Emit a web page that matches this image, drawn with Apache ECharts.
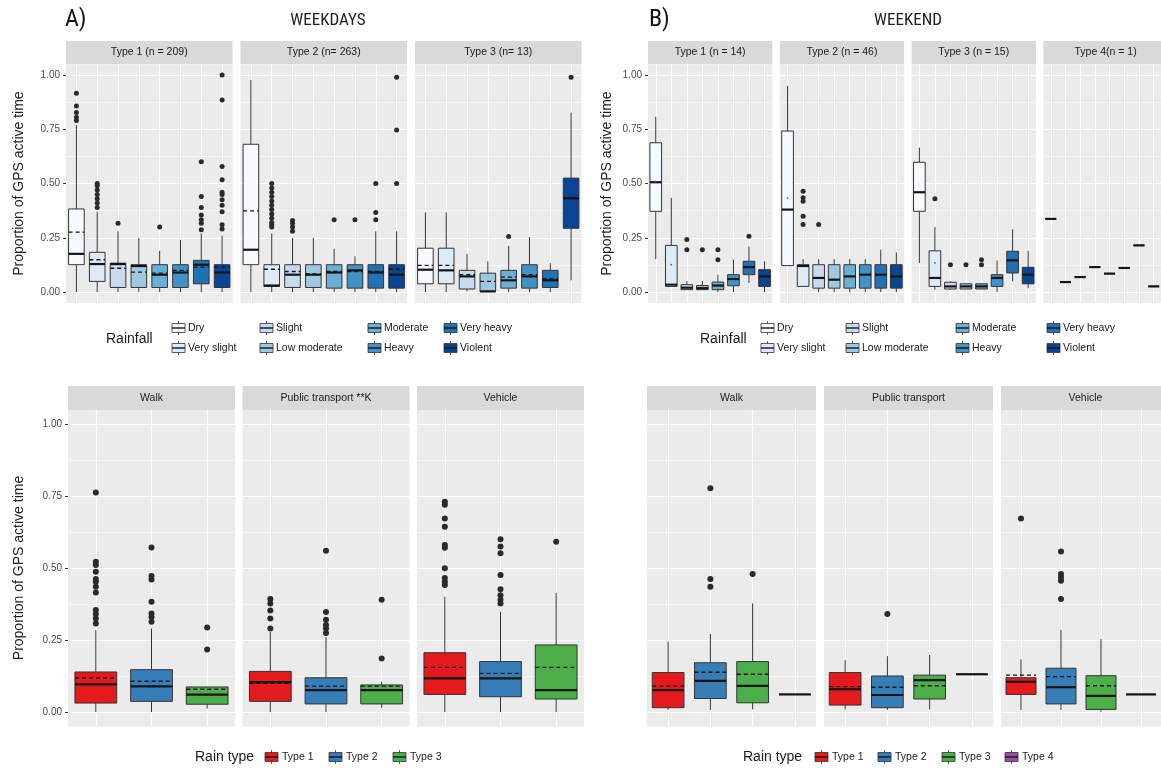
<!DOCTYPE html>
<html>
<head>
<meta charset="utf-8">
<script src="https://cdn.jsdelivr.net/npm/echarts@6/dist/echarts.min.js"></script>
<style>
html,body{margin:0;padding:0;background:#fff;}
#chart{width:1161px;height:774px;}
</style>
</head>
<body>
<div id="chart"></div>
<script>
// ---------------- DATA ----------------
const rainCats = ['Dry','Very slight','Slight','Low moderate','Moderate','Heavy','Very heavy','Violent'];
const typeCats3 = ['Type 1','Type 2','Type 3'];
const typeCats4 = ['Type 1','Type 2','Type 3','Type 4'];
const yTicks = [0, 0.25, 0.5, 0.75, 1];
const yTickLabels = ['0.00','0.25','0.50','0.75','1.00'];
const yMinorTicks = [0.125, 0.375, 0.625, 0.875];

const weekdayPanelTitles = ['Type 1 (n = 209)','Type 2 (n= 263)','Type 3 (n= 13)'];
const weekendPanelTitles = ['Type 1 (n = 14)','Type 2 (n = 46)','Type 3 (n = 15)','Type 4(n = 1)'];
const modeTitlesWeekday = ['Walk','Public transport **K','Vehicle'];
const modeTitlesWeekend = ['Walk','Public transport','Vehicle'];

// box rows: [lower whisker, Q1, median, Q3, upper whisker, mean]
const wdType1Box = [
  [0, 0.126, 0.176, 0.383, 0.77, 0.276],
  [0, 0.049, 0.129, 0.183, 0.37, 0.149],
  [0, 0.021, 0.129, 0.133, 0.28, 0.11],
  [0, 0.021, 0.12, 0.126, 0.25, 0.092],
  [0, 0.021, 0.08, 0.126, 0.19, 0.087],
  [0, 0.021, 0.09, 0.126, 0.24, 0.10],
  [0, 0.038, 0.126, 0.146, 0.27, 0.115],
  [0, 0.021, 0.09, 0.126, 0.26, 0.115]
];
const wdType1Out = [
  [0.79, 0.805, 0.827, 0.857, 0.916],
  [0.39, 0.41, 0.43, 0.45, 0.47, 0.49, 0.50],
  [0.317], [], [0.30], [],
  [0.287, 0.317, 0.333, 0.355, 0.39, 0.44, 0.60],
  [0.29, 0.31, 0.37, 0.40, 0.425, 0.45, 0.46, 0.517, 0.578, 0.885, 1.0]
];
const wdType2Box = [
  [0, 0.126, 0.195, 0.681, 0.977, 0.374],
  [0, 0.026, 0.03, 0.126, 0.27, 0.105],
  [0, 0.021, 0.08, 0.126, 0.25, 0.095],
  [0, 0.021, 0.08, 0.126, 0.25, 0.083],
  [0, 0.018, 0.09, 0.126, 0.2, 0.095],
  [0, 0.018, 0.10, 0.126, 0.165, 0.095],
  [0, 0.018, 0.09, 0.126, 0.28, 0.095],
  [0, 0.018, 0.08, 0.126, 0.28, 0.106]
];
const wdType2Out = [
  [],
  [0.30, 0.31, 0.32, 0.34, 0.36, 0.38, 0.40, 0.42, 0.44, 0.46, 0.48, 0.50],
  [0.28, 0.30, 0.317, 0.33], [], [0.333], [0.333],
  [0.333, 0.367, 0.50],
  [0.50, 0.747, 0.99]
];
const wdType3Box = [
  [0, 0.038, 0.103, 0.202, 0.367, 0.123],
  [0, 0.038, 0.10, 0.202, 0.367, 0.123],
  [0.003, 0.014, 0.072, 0.10, 0.176, 0.08],
  [0, 0.003, 0.003, 0.087, 0.141, 0.049],
  [0, 0.018, 0.054, 0.10, 0.213, 0.069],
  [0, 0.018, 0.072, 0.126, 0.253, 0.08],
  [0, 0.021, 0.054, 0.10, 0.133, 0.06],
  [0.054, 0.294, 0.432, 0.525, 0.827, 0.432]
];
const wdType3Out = [[], [], [], [], [0.256], [], [], [0.99]];

const weType1Box = [
  [0.152, 0.372, 0.506, 0.688, 0.808, 0.51],
  [0.026, 0.026, 0.034, 0.215, 0.434, 0.126],
  [0.011, 0.011, 0.02, 0.034, 0.05, null],
  [0.011, 0.011, 0.018, 0.03, 0.05, null],
  [0, 0.011, 0.03, 0.046, 0.08, null],
  [0, 0.029, 0.06, 0.08, 0.149, null],
  [0.042, 0.08, 0.115, 0.142, 0.21, null],
  [0, 0.026, 0.072, 0.103, 0.142, null]
];
const weType1Out = [[], [], [0.195, 0.242], [0.195], [0.149, 0.195], [], [0.257], []];
const weType2Box = [
  [0.122, 0.122, 0.38, 0.742, 0.95, 0.434],
  [0.026, 0.026, 0.12, 0.126, 0.152, null],
  [0, 0.018, 0.065, 0.126, 0.152, null],
  [0, 0.018, 0.057, 0.126, 0.152, null],
  [0, 0.018, 0.072, 0.126, 0.152, null],
  [0, 0.018, 0.08, 0.126, 0.152, null],
  [0, 0.018, 0.08, 0.126, 0.195, null],
  [0, 0.018, 0.072, 0.126, 0.183, null]
];
const weType2Out = [[], [0.311, 0.349, 0.418, 0.434, 0.465], [0.311], [], [], [], [], []];
const weType3Box = [
  [0.134, 0.372, 0.46, 0.598, 0.665, null],
  [0.011, 0.026, 0.065, 0.19, 0.30, 0.134],
  [0.011, 0.014, 0.026, 0.045, 0.05, null],
  [0.014, 0.014, 0.026, 0.038, 0.04, null],
  [0.014, 0.014, 0.026, 0.038, 0.04, null],
  [0, 0.026, 0.065, 0.08, 0.146, null],
  [0.049, 0.088, 0.146, 0.188, 0.29, null],
  [0.018, 0.038, 0.08, 0.114, 0.19, null]
];
const weType3Out = [[], [0.43], [0.126], [0.126], [0.126, 0.149], [], [], []];
const weType4Value = [0.337, 0.046, 0.069, 0.115, 0.085, 0.111, 0.215, 0.026];

const wdWalkBox = [
  [0, 0.031, 0.096, 0.139, 0.284, 0.118],
  [0, 0.037, 0.089, 0.147, 0.29, 0.107],
  [0.012, 0.027, 0.06, 0.087, 0.087, 0.079]
];
const wdWalkOut = [
  [0.307, 0.325, 0.34, 0.354, 0.415, 0.435, 0.452, 0.462, 0.487, 0.51, 0.522, 0.762],
  [0.313, 0.33, 0.342, 0.383, 0.46, 0.472, 0.571],
  [0.217, 0.293]
];
const wdPublicBox = [
  [0, 0.037, 0.104, 0.141, 0.278, 0.10],
  [0, 0.028, 0.076, 0.119, 0.26, 0.09],
  [0.014, 0.028, 0.076, 0.094, 0.105, 0.09]
];
const wdPublicOut = [
  [0.29, 0.325, 0.352, 0.377, 0.392],
  [0.274, 0.29, 0.302, 0.32, 0.347, 0.56],
  [0.186, 0.39]
];
const wdVehicleBox = [
  [0, 0.061, 0.117, 0.206, 0.40, 0.155],
  [0, 0.053, 0.117, 0.175, 0.348, 0.134],
  [0, 0.045, 0.076, 0.233, 0.414, 0.155]
];
const wdVehicleOut = [
  [0.441, 0.452, 0.465, 0.499, 0.57, 0.58, 0.643, 0.672, 0.72, 0.73],
  [0.377, 0.39, 0.405, 0.426, 0.476, 0.551, 0.575, 0.6],
  [0.591]
];
const weWalkBox = [
  [0.007, 0.015, 0.076, 0.137, 0.244, 0.09],
  [0.007, 0.047, 0.108, 0.171, 0.271, 0.138],
  [0.009, 0.032, 0.091, 0.175, 0.377, 0.131],
  [0.061, 0.061, 0.061, 0.061, 0.061, null]
];
const weWalkOut = [[], [0.435, 0.462, 0.777], [0.479], []];
const wePublicBox = [
  [0.009, 0.024, 0.079, 0.137, 0.18, 0.088],
  [0.007, 0.015, 0.059, 0.125, 0.194, 0.086],
  [0.009, 0.045, 0.111, 0.128, 0.198, 0.091],
  [0.131, 0.131, 0.131, 0.131, 0.131, null]
];
const wePublicOut = [[], [0.34], [], []];
const weVehicleBox = [
  [0.007, 0.061, 0.105, 0.119, 0.183, 0.128],
  [0.007, 0.028, 0.086, 0.152, 0.285, 0.123],
  [0.001, 0.009, 0.056, 0.126, 0.253, 0.091],
  [0.061, 0.061, 0.061, 0.061, 0.061, null]
];
const weVehicleOut = [[0.672], [0.392, 0.456, 0.468, 0.479, 0.557], [], []];

// ---------------- STYLE ----------------
const rainColors = ['#F7FBFF','#DEEBF7','#C6DBEF','#9ECAE1','#6BAED6','#4292C6','#2171B5','#084594'];
const typeColors = ['#E41A1C','#377EB8','#4DAF4A','#984EA3'];
const FONT = "'Liberation Sans', Arial, sans-serif";
const TITLE_FONT = "'Liberation Sans Narrow', 'Roboto Condensed', 'Liberation Sans', sans-serif";

const weType4Box = weType4Value.map(v => [v, v, v, v, v, null]);
const noOut = rainCats.map(() => []);

// layout (not data)
const topRow = {top: 64.2, height: 238.7, stripTop: 41, stripH: 23};
const botRow = {top: 409.6, height: 316.8, stripTop: 386, stripH: 24};

const panels = [
  {title: weekdayPanelTitles[0], cats: rainCats, colors: rainColors, box: wdType1Box, out: wdType1Out, left: 66, width: 166.5, row: topRow, labels: true, name: 40, mean: 'dash'},
  {title: weekdayPanelTitles[1], cats: rainCats, colors: rainColors, box: wdType2Box, out: wdType2Out, left: 240.5, width: 166.5, row: topRow, mean: 'dash'},
  {title: weekdayPanelTitles[2], cats: rainCats, colors: rainColors, box: wdType3Box, out: wdType3Out, left: 415, width: 166.5, row: topRow, mean: 'dash'},
  {title: weekendPanelTitles[0], cats: rainCats, colors: rainColors, box: weType1Box, out: weType1Out, left: 648, width: 124.3, row: topRow, labels: true, name: 34, mean: 'dot'},
  {title: weekendPanelTitles[1], cats: rainCats, colors: rainColors, box: weType2Box, out: weType2Out, left: 779.8, width: 124.3, row: topRow, mean: 'dot'},
  {title: weekendPanelTitles[2], cats: rainCats, colors: rainColors, box: weType3Box, out: weType3Out, left: 911.6, width: 124.3, row: topRow, mean: 'dot'},
  {title: weekendPanelTitles[3], cats: rainCats, colors: rainColors, box: weType4Box, out: noOut, left: 1043.4, width: 124.3, row: topRow, mean: 'dot'},
  {title: modeTitlesWeekday[0], cats: typeCats3, colors: typeColors, box: wdWalkBox, out: wdWalkOut, left: 68, width: 167, row: botRow, labels: true, name: 42, mean: 'dash'},
  {title: modeTitlesWeekday[1], cats: typeCats3, colors: typeColors, box: wdPublicBox, out: wdPublicOut, left: 242.5, width: 167, row: botRow, mean: 'dash'},
  {title: modeTitlesWeekday[2], cats: typeCats3, colors: typeColors, box: wdVehicleBox, out: wdVehicleOut, left: 417, width: 167, row: botRow, mean: 'dash'},
  {title: modeTitlesWeekend[0], cats: typeCats4, colors: typeColors, box: weWalkBox, out: weWalkOut, left: 647, width: 169, row: botRow, mean: 'dash'},
  {title: modeTitlesWeekend[1], cats: typeCats4, colors: typeColors, box: wePublicBox, out: wePublicOut, left: 824, width: 169, row: botRow, mean: 'dash'},
  {title: modeTitlesWeekend[2], cats: typeCats4, colors: typeColors, box: weVehicleBox, out: weVehicleOut, left: 1001, width: 169, row: botRow, mean: 'dash'}
];

const BOXW = 0.75;

function makeBoxRenderer(meanStyle) {
  return function (params, api) {
    const x = api.value(0);
    const lo = api.value(1), q1 = api.value(2), md = api.value(3), q3 = api.value(4), hi = api.value(5), mn = api.value(6);
    const half = api.size([BOXW, 0])[0] / 2;
    const c = v => api.coord([x, v]);
    const pLo = c(lo), pQ1 = c(q1), pMd = c(md), pQ3 = c(q3), pHi = c(hi);
    const cx = pMd[0];
    const children = [
      {type: 'line', shape: {x1: cx, y1: pLo[1], x2: cx, y2: pQ1[1]}, style: {stroke: '#333', lineWidth: 1}},
      {type: 'line', shape: {x1: cx, y1: pQ3[1], x2: cx, y2: pHi[1]}, style: {stroke: '#333', lineWidth: 1}},
      {type: 'rect', shape: {x: cx - half, y: pQ3[1], width: 2 * half, height: pQ1[1] - pQ3[1]},
        style: {fill: api.visual('color'), stroke: '#333', lineWidth: 1}},
      {type: 'line', shape: {x1: cx - half, y1: pMd[1], x2: cx + half, y2: pMd[1]}, style: {stroke: '#151515', lineWidth: 2.2}}
    ];
    if (mn != null && !isNaN(mn)) {
      const pm = c(mn);
      if (meanStyle === 'dash') {
        children.push({type: 'line', shape: {x1: cx - half, y1: pm[1], x2: cx + half, y2: pm[1]},
          style: {stroke: '#151515', lineWidth: 1.4, lineDash: [4, 3]}});
      } else {
        children.push({type: 'circle', shape: {cx: cx, cy: pm[1], r: 0.9}, style: {fill: '#666'}});
      }
    }
    return {type: 'group', children: children};
  };
}

const grids = [], xAxes = [], yAxes = [], series = [], graphics = [];

panels.forEach((p, i) => {
  const n = p.cats.length;
  const idx = p.cats.map((_, k) => k);
  grids.push({left: p.left, top: p.row.top, width: p.width, height: p.row.height,
    show: true, backgroundColor: '#EBEBEB', borderWidth: 0, containLabel: false});
  xAxes.push({gridIndex: i, type: 'value', min: -0.5, max: n - 0.5,
    axisLine: {show: false, onZero: false}, axisLabel: {show: false},
    axisTick: {show: false, customValues: idx},
    splitLine: {show: true, lineStyle: {color: '#FFFFFF', width: 1.1}}});
  yAxes.push({gridIndex: i, type: 'value', min: -0.05, max: 1.05, position: 'left',
    axisLine: {show: false, onZero: false},
    axisTick: {show: !!p.labels, length: 3, customValues: yTicks, lineStyle: {color: '#333', width: 1}},
    axisLabel: {show: !!p.labels, customValues: yTicks, margin: 6, color: '#4D4D4D', fontSize: 10, fontFamily: FONT,
      formatter: v => yTickLabels[yTicks.indexOf(v)]},
    splitLine: {show: true, lineStyle: {color: '#FFFFFF', width: 1.1}},
    name: p.name ? 'Proportion of GPS active time' : '',
    nameLocation: 'middle', nameGap: p.name || 0,
    nameTextStyle: {fontSize: 14, color: '#222', fontFamily: FONT}});
  yAxes.push({gridIndex: i, type: 'value', min: -0.05, max: 1.05, position: 'left',
    axisLine: {show: false, onZero: false}, axisLabel: {show: false},
    axisTick: {show: false, customValues: yMinorTicks},
    splitLine: {show: true, lineStyle: {color: '#FFFFFF', width: 0.55}}});
  series.push({
    type: 'custom', xAxisIndex: i, yAxisIndex: 2 * i, silent: true, animation: false,
    renderItem: makeBoxRenderer(p.mean),
    encode: {x: 0, y: [1, 2, 3, 4, 5]},
    data: p.box.map((b, k) => ({value: [k].concat(b.map(v => v == null ? '-' : v)), itemStyle: {color: p.colors[k]}}))
  });
  const pts = [];
  p.out.forEach((arr, k) => arr.forEach(v => pts.push([k, v])));
  series.push({
    type: 'scatter', xAxisIndex: i, yAxisIndex: 2 * i, silent: true, animation: false,
    symbolSize: p.row === topRow ? 5 : 6, itemStyle: {color: '#2a2a2a', opacity: 1}, data: pts
  });
  graphics.push({type: 'rect', shape: {x: p.left, y: p.row.stripTop, width: p.width, height: p.row.stripH},
    style: {fill: '#D9D9D9'}, silent: true});
  graphics.push({type: 'text', x: p.left + p.width / 2, y: p.row.stripTop + p.row.stripH / 2,
    style: {text: p.title, align: 'center', verticalAlign: 'middle', fontSize: 10.5, fontFamily: FONT, fill: '#1A1A1A'}, silent: true});
});

// titles
graphics.push({type: 'text', x: 65, y: 20, style: {text: 'A)', verticalAlign: 'middle', fontSize: 24, fontFamily: TITLE_FONT, fill: '#111'}});
graphics.push({type: 'text', x: 328, y: 21, style: {text: 'WEEKDAYS', align: 'center', verticalAlign: 'middle', fontSize: 17, fontFamily: TITLE_FONT, fill: '#222'}});
graphics.push({type: 'text', x: 649, y: 20, style: {text: 'B)', verticalAlign: 'middle', fontSize: 24, fontFamily: TITLE_FONT, fill: '#111'}});
graphics.push({type: 'text', x: 908, y: 21, style: {text: 'WEEKEND', align: 'center', verticalAlign: 'middle', fontSize: 17, fontFamily: TITLE_FONT, fill: '#222'}});

// legend keys
function legendKey(x, yc, color, w, h) {
  return [
    {type: 'line', shape: {x1: x + w / 2, y1: yc - h / 2 - 2.5, x2: x + w / 2, y2: yc + h / 2 + 2.5}, style: {stroke: '#333', lineWidth: 0.8}},
    {type: 'rect', shape: {x: x, y: yc - h / 2, width: w, height: h}, style: {fill: color, stroke: '#333', lineWidth: 0.8}},
    {type: 'line', shape: {x1: x, y1: yc, x2: x + w, y2: yc}, style: {stroke: '#151515', lineWidth: 1.4}}
  ];
}
function buildRainLegend(titleX, iconXs, rowYs) {
  graphics.push({type: 'text', x: titleX, y: (rowYs[0] + rowYs[1]) / 2 + 1,
    style: {text: 'Rainfall', verticalAlign: 'middle', fontSize: 14, fontFamily: FONT, fill: '#1A1A1A'}});
  rainCats.forEach((cat, k) => {
    const col = Math.floor(k / 2), row = k % 2;
    const x = iconXs[col], y = rowYs[row];
    legendKey(x, y, rainColors[k], 13, 9).forEach(g => graphics.push(g));
    graphics.push({type: 'text', x: x + 16, y: y,
      style: {text: cat, verticalAlign: 'middle', fontSize: 10.5, fontFamily: FONT, fill: '#1A1A1A'}});
  });
}
function buildTypeLegend(titleX, iconXs, y, cats) {
  graphics.push({type: 'text', x: titleX, y: y,
    style: {text: 'Rain type', verticalAlign: 'middle', fontSize: 14, fontFamily: FONT, fill: '#1A1A1A'}});
  cats.forEach((cat, k) => {
    const x = iconXs[k];
    legendKey(x, y, typeColors[k], 13, 9).forEach(g => graphics.push(g));
    graphics.push({type: 'text', x: x + 17, y: y,
      style: {text: cat, verticalAlign: 'middle', fontSize: 10.5, fontFamily: FONT, fill: '#1A1A1A'}});
  });
}
buildRainLegend(106, [172, 260, 368, 444], [328, 348]);
buildRainLegend(700, [761, 846, 956, 1047], [328, 348]);
buildTypeLegend(195, [265, 329, 393], 757, typeCats3);
buildTypeLegend(743, [815, 878, 942, 1005], 757, typeCats4);

const chart = echarts.init(document.getElementById('chart'), null, {renderer: 'canvas'});
chart.setOption({
  animation: false,
  backgroundColor: '#FFFFFF',
  grid: grids, xAxis: xAxes, yAxis: yAxes, series: series,
  graphic: graphics
});
</script>
</body>
</html>
